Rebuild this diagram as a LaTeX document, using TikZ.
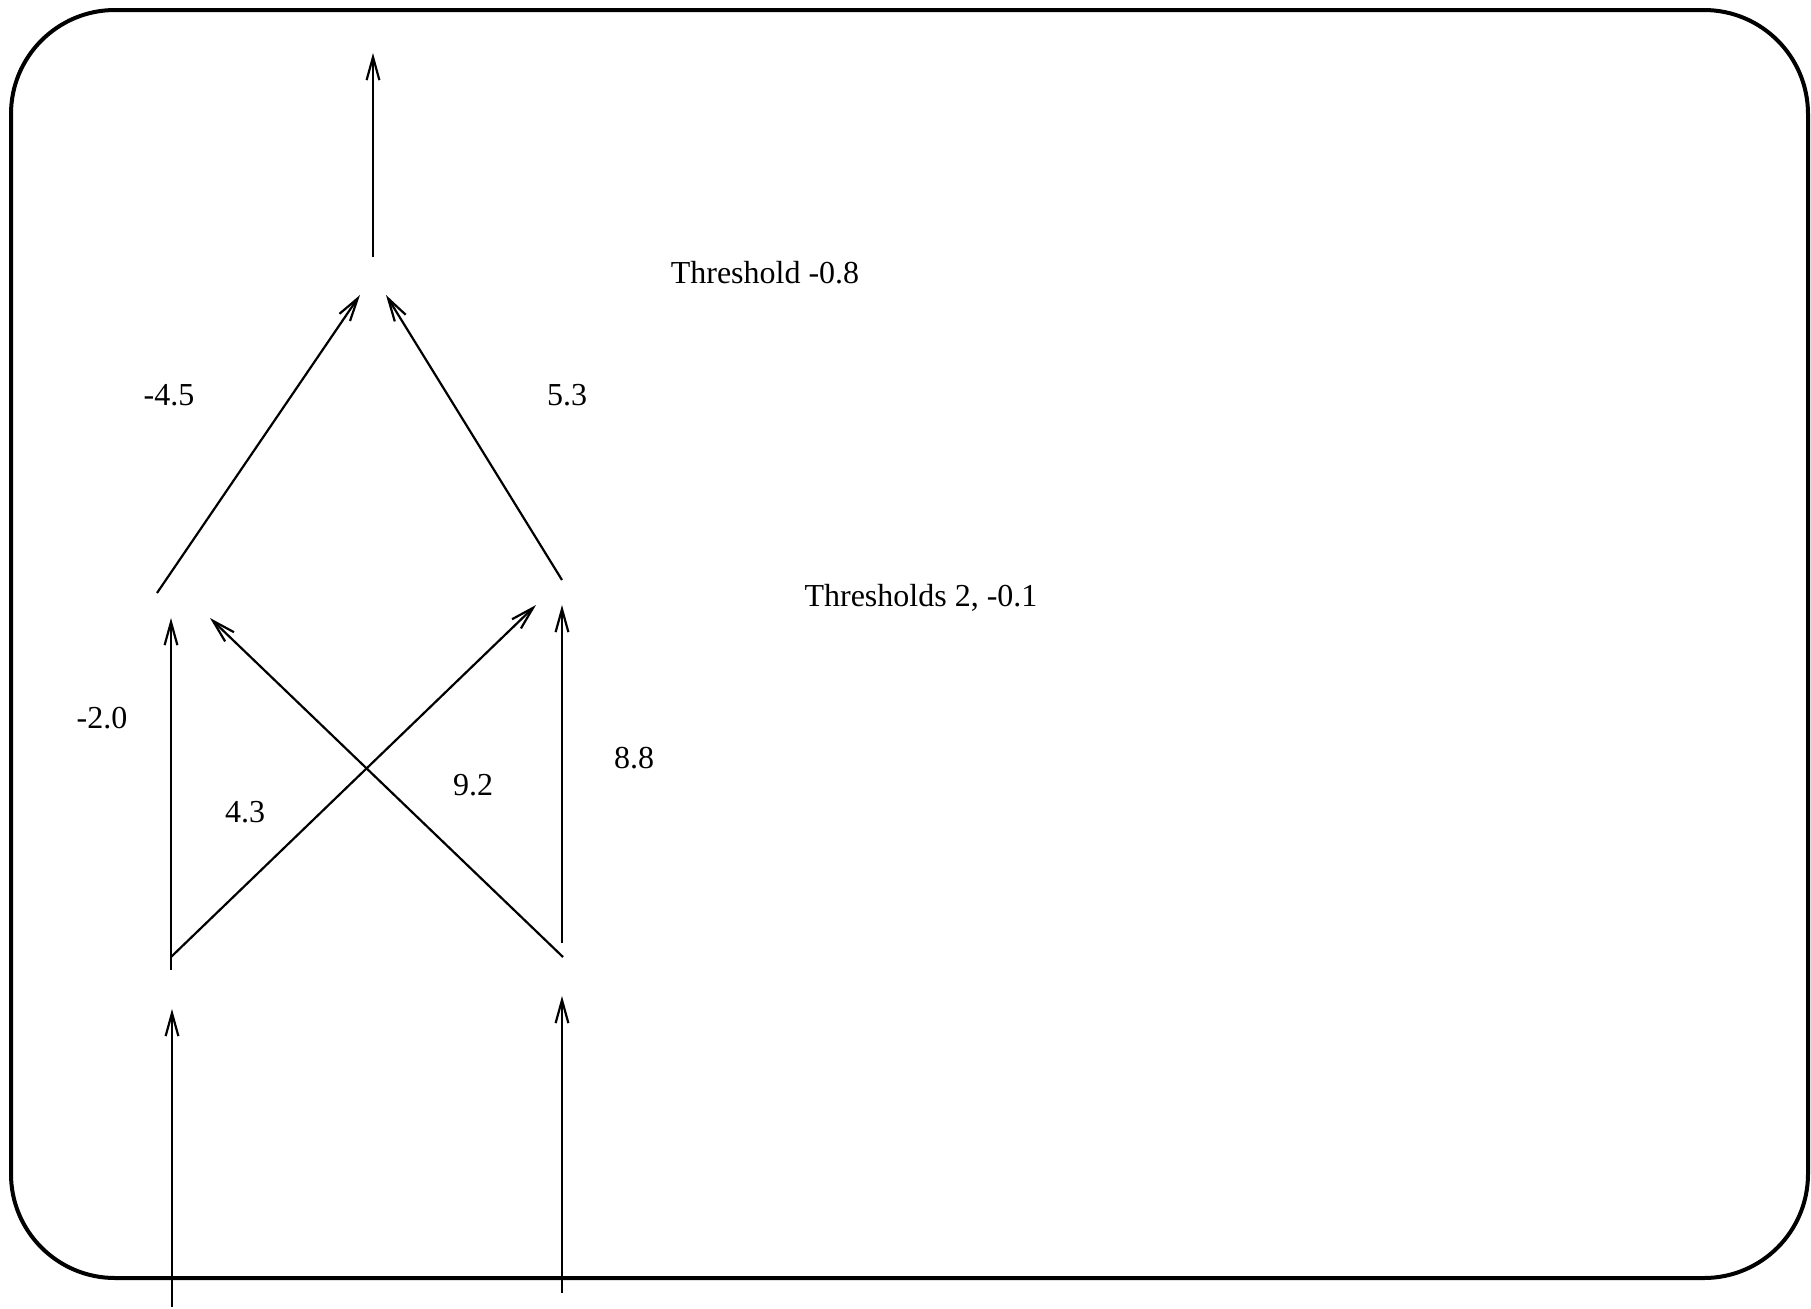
\documentclass[tikz,border=0pt]{standalone}
\usepackage{fontspec}
\setmainfont{Liberation Serif}
\usetikzlibrary{arrows.meta}
\begin{document}
\begin{tikzpicture}[x=0.5pt,y=-0.5pt,
  conn/.style={line width=1.1pt},
  arr/.style={conn,-{Straight Barb[length=11.5pt,width=6.4pt,line width=1.1pt]}},
  lbl/.style={inner sep=0pt,font=\fontsize{16}{19}\selectfont}]
\useasboundingbox (0,0) rectangle (1811,1308);
\draw[line width=2pt,rounded corners=52pt] (11,10) rectangle (1808,1278);
% coordinates
\coordinate (outS) at (373,257);
\coordinate (outT) at (373,53);
\coordinate (hLs) at (157,593);
\coordinate (hLt) at (360,295);
\coordinate (hRs) at (562,580);
\coordinate (hRt) at (386,295);
\coordinate (aLs) at (171,970);
\coordinate (aLt) at (171,618);
\coordinate (xLs) at (171,957);
\coordinate (xLt) at (536,605);
\coordinate (aRs) at (562,943);
\coordinate (aRt) at (562,605);
\coordinate (xRs) at (563,957);
\coordinate (xRt) at (210,618);
\coordinate (iLs) at (172,1307);
\coordinate (iLt) at (172,1009);
\coordinate (iRs) at (562,1293);
\coordinate (iRt) at (562,996);
% connectors
\draw[arr] (outS) -- (outT);
\draw[arr] (hLs) -- (hLt);
\draw[arr] (hRs) -- (hRt);
\draw[arr] (aLs) -- (aLt);
\draw[arr] (xLs) -- (xLt);
\draw[arr] (aRs) -- (aRt);
\draw[arr] (xRs) -- (xRt);
\draw[arr] (iLs) -- (iLt);
\draw[arr] (iRs) -- (iRt);
% labels
\node[lbl] (t1) at (765,273) {Threshold -0.8};
\node[lbl] (t2) at (921,598) {Thresholds 2, -0.1};
\node[lbl] (w1) at (169,395) {-4.5};
\node[lbl] (w2) at (567,395) {5.3};
\node[lbl] (w3) at (102,718) {-2.0};
\node[lbl] (w4) at (245,812) {4.3};
\node[lbl] (w5) at (473,785) {9.2};
\node[lbl] (w6) at (634,758) {8.8};
\end{tikzpicture}
\end{document}
